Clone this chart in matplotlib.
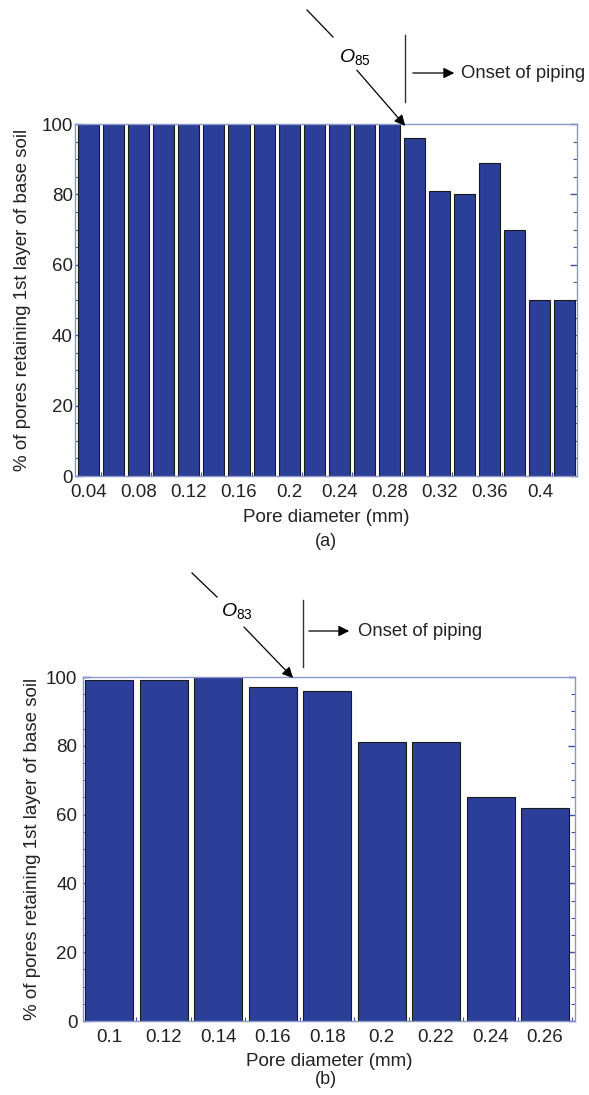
import numpy as np
import matplotlib
matplotlib.use('Agg')
import matplotlib.pyplot as plt
from matplotlib.ticker import MultipleLocator, FixedLocator

plt.rcParams['font.family'] = ['Liberation Sans', 'DejaVu Sans']
plt.rcParams['mathtext.fontset'] = 'custom'
plt.rcParams['mathtext.rm'] = 'Liberation Sans'
plt.rcParams['mathtext.it'] = 'Liberation Sans:italic'

# panel (a) data
diam_a = [0.04, 0.06, 0.08, 0.10, 0.12, 0.14, 0.16, 0.18, 0.20, 0.22,
          0.24, 0.26, 0.28, 0.30, 0.32, 0.34, 0.36, 0.38, 0.40, 0.42]
pct_a = [100, 100, 100, 100, 100, 100, 100, 100, 100, 100,
         100, 100, 100, 96, 81, 80, 89, 70, 50, 50]
ticks_a = [0.04, 0.08, 0.12, 0.16, 0.2, 0.24, 0.28, 0.32, 0.36, 0.4]
ticklabels_a = ['0.04', '0.08', '0.12', '0.16', '0.2', '0.24', '0.28', '0.32', '0.36', '0.4']

# panel (b) data
diam_b = [0.10, 0.12, 0.14, 0.16, 0.18, 0.20, 0.22, 0.24, 0.26]
pct_b = [99, 99, 100, 97, 96, 81, 81, 65, 62]
ticklabels_b = ['0.1', '0.12', '0.14', '0.16', '0.18', '0.2', '0.22', '0.24', '0.26']

BAR = '#2b3f98'
SPINE = '#8a97cc'
TICK = '#3d4fa8'
TXT = '#222222'
FS = 13.5

W, H = 589, 1095
fig = plt.figure(figsize=(W / 100, H / 100), dpi=100)


def fpos(x, y):
    return (x / W, 1 - y / H)


def style_axes(ax, ypad):
    ax.set_axisbelow(True)
    for s in ax.spines.values():
        s.set_color(SPINE)
        s.set_linewidth(1.0)
    ax.yaxis.set_major_locator(MultipleLocator(20))
    ax.yaxis.set_minor_locator(MultipleLocator(5))
    ax.tick_params(which='both', direction='in', color=TICK, right=True,
                   labelsize=FS, labelcolor=TXT)
    ax.tick_params(which='major', length=5, width=1)
    ax.tick_params(which='minor', length=3, width=0.8)
    ax.tick_params(axis='x', which='major', length=0, pad=5.5)
    ax.tick_params(axis='y', which='major', pad=ypad)
    ax.set_ylim(0, 100)


# ---- panel (a)
ax1 = fig.add_axes([75 / W, 1 - 476 / H, (577 - 75) / W, (476 - 124) / H])
ax1.bar(diam_a, pct_a, width=0.0168, color=BAR, edgecolor='#1a1a1a', linewidth=0.8)
ax1.set_xlim(0.0292, 0.4296)
ax1.set_xticks(ticks_a)
ax1.set_xticklabels(ticklabels_a)
ax1.xaxis.set_minor_locator(FixedLocator(np.arange(0.05, 0.43, 0.04)))
style_axes(ax1, 1.5)
ax1.set_xlabel('Pore diameter (mm)', fontsize=FS, color=TXT)
ax1.set_ylabel('% of pores retaining 1st layer of base soil', fontsize=FS, color=TXT)
ax1.xaxis.set_label_coords(0.5, -0.093)
ax1.yaxis.set_label_coords(-0.088, 0.5)
fig.text(*fpos(326, 541), '(a)', fontsize=FS - 0.5, ha='center', va='center', color=TXT)

# annotations (a)
arr = dict(arrowstyle='-|>', color='black', lw=0.9, mutation_scale=16)
ax1.annotate('', xy=fpos(407, 128), xycoords='figure fraction',
             xytext=fpos(355, 68), textcoords='figure fraction', arrowprops=arr)
fig.add_artist(plt.Line2D([307 / W, 333 / W], [1 - 10 / H, 1 - 37 / H],
                          color='black', lw=0.9))
fig.text(*fpos(355, 57), r'$\mathit{O}_{85}$', fontsize=14, ha='center', va='center')
fig.add_artist(plt.Line2D([405 / W, 405 / W], [1 - 35 / H, 1 - 102 / H],
                          color='#333333', lw=1.0))
ax1.annotate('', xy=fpos(457, 73), xycoords='figure fraction',
             xytext=fpos(410, 73), textcoords='figure fraction', arrowprops=arr)
fig.text(*fpos(461, 73), 'Onset of piping', fontsize=13.3, ha='left', va='center',
         color=TXT)

# ---- panel (b)
ax2 = fig.add_axes([83 / W, 1 - 1021 / H, (575 - 83) / W, (1021 - 677) / H])
ax2.bar(diam_b, pct_b, width=0.0176, color=BAR, edgecolor='#1a1a1a', linewidth=0.8)
ax2.set_xlim(0.0904, 0.2710)
ax2.set_xticks(diam_b)
ax2.set_xticklabels(ticklabels_b)
ax2.xaxis.set_minor_locator(FixedLocator(np.arange(0.11, 0.27, 0.02)))
style_axes(ax2, 4)
ax2.set_xlabel('Pore diameter (mm)', fontsize=FS, color=TXT)
ax2.set_ylabel('% of pores retaining 1st layer of base soil', fontsize=FS, color=TXT)
ax2.xaxis.set_label_coords(0.5, -0.092)
ax2.yaxis.set_label_coords(-0.085, 0.5)
fig.text(*fpos(326, 1080), '(b)', fontsize=FS - 0.5, ha='center', va='center', color=TXT)

# annotations (b)
ax2.annotate('', xy=fpos(295, 680), xycoords='figure fraction',
             xytext=fpos(242, 625), textcoords='figure fraction', arrowprops=arr)
fig.add_artist(plt.Line2D([192 / W, 217 / W], [1 - 573 / H, 1 - 597 / H],
                          color='black', lw=0.9))
fig.text(*fpos(237, 611), r'$\mathit{O}_{83}$', fontsize=14, ha='center', va='center')
fig.add_artist(plt.Line2D([303 / W, 303 / W], [1 - 600 / H, 1 - 667 / H],
                          color='#333333', lw=1.0))
ax2.annotate('', xy=fpos(352, 631), xycoords='figure fraction',
             xytext=fpos(306, 631), textcoords='figure fraction', arrowprops=arr)
fig.text(*fpos(358, 631), 'Onset of piping', fontsize=13.3, ha='left', va='center',
         color=TXT)

fig.savefig('out.png', dpi=100)
